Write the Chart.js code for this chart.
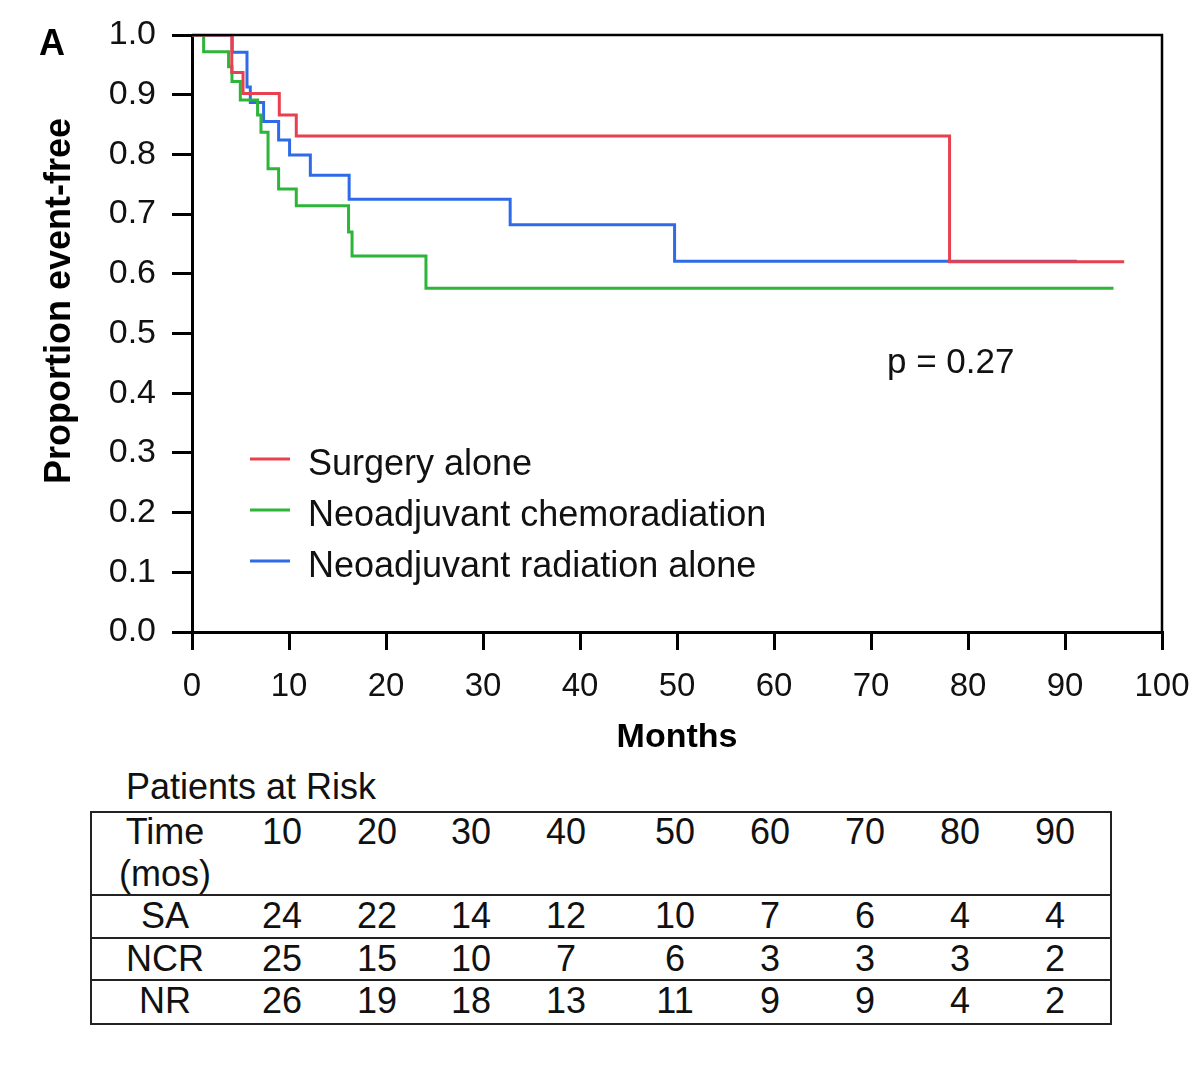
<!DOCTYPE html>
<html>
<head>
<meta charset="utf-8">
<title>Proportion event-free</title>
<script src="https://cdn.jsdelivr.net/npm/chart.js@4.4.1/dist/chart.umd.min.js"></script>
<style>
    body { margin: 0; background: #fff; font-family: "Liberation Sans", Arial, sans-serif; }
    #wrap { position: relative; width: 1200px; height: 1066px; overflow: hidden; }
    #grafico { position: absolute; left: 0; top: 0; }
    .txt { position: absolute; font-size: 36px; line-height: 40px; color: #111; white-space: nowrap; transform: translateX(-50%); }
    #tituloRiesgo { position: absolute; left: 126px; top: 767px; font-size: 36px; line-height: 40px; color: #111; }
    #tabla { position: absolute; left: 90px; top: 811px; width: 1018px; height: 210px; border: 2px solid #222; }
    .linea { position: absolute; left: 90px; width: 1022px; height: 0; border-top: 2px solid #222; }
</style>
</head>
<body>
<div id="wrap">
    <canvas id="grafico" width="1200" height="760"></canvas>
    <div id="tituloRiesgo">Patients at Risk</div>
    <div id="tabla"></div>
    <div class="linea" style="top:894px"></div>
    <div class="linea" style="top:937px"></div>
    <div class="linea" style="top:979px"></div>
    <div id="celdas"></div>
</div>
<script>
// curvas Kaplan-Meier (meses, proporcion)
var saTiempo = [0, 4.1, 5.26, 9.0, 10.75, 78.1, 96.1];
var saProp   = [1.0, 0.937, 0.902, 0.866, 0.831, 0.620, 0.620];

var ncrTiempo = [0, 1.2, 3.77, 4.12, 4.98, 6.76, 7.11, 7.84, 8.93, 10.75, 16.14, 16.5, 24.12, 95.0];
var ncrProp   = [1.0, 0.972, 0.947, 0.922, 0.891, 0.866, 0.837, 0.776, 0.742, 0.714, 0.670, 0.630, 0.576, 0.576];

var nrTiempo = [0, 4.15, 5.67, 6.01, 7.38, 8.93, 10.06, 12.2, 16.2, 32.8, 49.75, 91.07];
var nrProp   = [1.0, 0.971, 0.913, 0.887, 0.855, 0.824, 0.799, 0.765, 0.725, 0.682, 0.621, 0.620];

var nombres = ['Surgery alone', 'Neoadjuvant chemoradiation', 'Neoadjuvant radiation alone'];
var colores = ['#e8404f', '#2db53a', '#2f6be6'];

// tabla de pacientes en riesgo
var riesgoTiempo = [10, 20, 30, 40, 50, 60, 70, 80, 90];
var grupos = ['SA', 'NCR', 'NR'];
var riesgoSA  = [24, 22, 14, 12, 10, 7, 6, 4, 4];
var riesgoNCR = [25, 15, 10, 7, 6, 3, 3, 3, 2];
var riesgoNR  = [26, 19, 18, 13, 11, 9, 9, 4, 2];

var fuente = '"Liberation Sans", Arial, sans-serif';

function puntos(tiempos, props) {
    var out = [];
    for (var i = 0; i < tiempos.length; i++) {
        out.push({ x: tiempos[i], y: props[i] });
    }
    return out;
}

function serie(i, tiempos, props) {
    return {
        label: nombres[i],
        data: puntos(tiempos, props),
        borderColor: colores[i],
        borderWidth: 3,
        stepped: true,
        pointRadius: 0,
        fill: false
    };
}

// marco, titulo del eje y, leyenda y textos sueltos
var extras = {
    id: 'extras',
    afterDraw: function (chart) {
        var ctx = chart.ctx;
        var a = chart.chartArea;
        ctx.save();
        ctx.strokeStyle = '#000';
        ctx.lineWidth = 2.5;
        ctx.beginPath();
        ctx.moveTo(a.left, a.top);
        ctx.lineTo(a.right, a.top);
        ctx.lineTo(a.right, a.bottom);
        ctx.stroke();

        ctx.fillStyle = '#000';
        ctx.font = 'bold 36px ' + fuente;
        ctx.textAlign = 'center';
        ctx.textBaseline = 'middle';
        ctx.save();
        ctx.translate(60, 301);
        ctx.rotate(-Math.PI / 2);
        ctx.fillText('Proportion event-free', 0, 0);
        ctx.restore();

        ctx.font = 'bold 36px ' + fuente;
        ctx.textBaseline = 'alphabetic';
        ctx.fillText('A', 52, 55);

        ctx.textAlign = 'left';
        ctx.font = '35px ' + fuente;
        ctx.fillStyle = '#111';
        ctx.fillText('p = 0.27', 887, 373);

        ctx.font = '36px ' + fuente;
        chart.data.datasets.forEach(function (ds, i) {
            var y = 459 + i * 51;
            ctx.strokeStyle = ds.borderColor;
            ctx.lineWidth = 3;
            ctx.beginPath();
            ctx.moveTo(250, y);
            ctx.lineTo(290, y);
            ctx.stroke();
            ctx.fillStyle = '#111';
            ctx.fillText(ds.label, 308, y + 16);
        });
        ctx.restore();
    }
};

new Chart(document.getElementById('grafico'), {
    type: 'line',
    data: {
        datasets: [
            serie(0, saTiempo, saProp),
            serie(1, ncrTiempo, ncrProp),
            serie(2, nrTiempo, nrProp)
        ]
    },
    options: {
        responsive: false,
        animation: false,
        devicePixelRatio: 1,
        layout: { padding: { top: 35, right: 38, left: 0, bottom: 0 } },
        plugins: { legend: { display: false }, tooltip: { enabled: false } },
        scales: {
            x: {
                type: 'linear',
                min: 0,
                max: 100,
                ticks: { stepSize: 10, color: '#111', padding: 17, font: { size: 33, family: fuente } },
                grid: { drawOnChartArea: false, drawTicks: true, tickLength: 18, color: '#000', lineWidth: 3 },
                border: { color: '#000', width: 3 },
                title: { display: true, text: 'Months', color: '#000', font: { size: 34, weight: 'bold', family: fuente }, padding: { top: 0, bottom: 2 } },
                afterFit: function (s) {
                    s.height = 128;
                    s.paddingLeft = 0;
                    s.paddingRight = 0;
                }
            },
            y: {
                min: 0,
                max: 1,
                ticks: {
                    stepSize: 0.1,
                    color: '#111',
                    padding: 16,
                    font: { size: 34, family: fuente },
                    callback: function (v) { return v.toFixed(1); }
                },
                grid: { drawOnChartArea: false, drawTicks: true, tickLength: 20, color: '#000', lineWidth: 3 },
                border: { color: '#000', width: 3 },
                afterFit: function (s) {
                    s.width = 192;
                    s.paddingTop = 0;
                    s.paddingBottom = 0;
                }
            }
        }
    },
    plugins: [extras]
});

// celdas de la tabla
var colX = [165, 282, 377, 471, 566, 675, 770, 865, 960, 1055];
var celdas = document.getElementById('celdas');

function celda(texto, x, yCentro) {
    var d = document.createElement('div');
    d.className = 'txt';
    d.style.left = x + 'px';
    d.style.top = (yCentro - 20) + 'px';
    d.textContent = texto;
    celdas.appendChild(d);
}

celda('Time', colX[0], 832);
celda('(mos)', colX[0], 874);
riesgoTiempo.forEach(function (t, i) { celda(t, colX[i + 1], 832); });

var filas = [riesgoSA, riesgoNCR, riesgoNR];
var filaY = [916, 959, 1001];
filas.forEach(function (fila, j) {
    celda(grupos[j], colX[0], filaY[j]);
    fila.forEach(function (n, i) { celda(n, colX[i + 1], filaY[j]); });
});
</script>
</body>
</html>
